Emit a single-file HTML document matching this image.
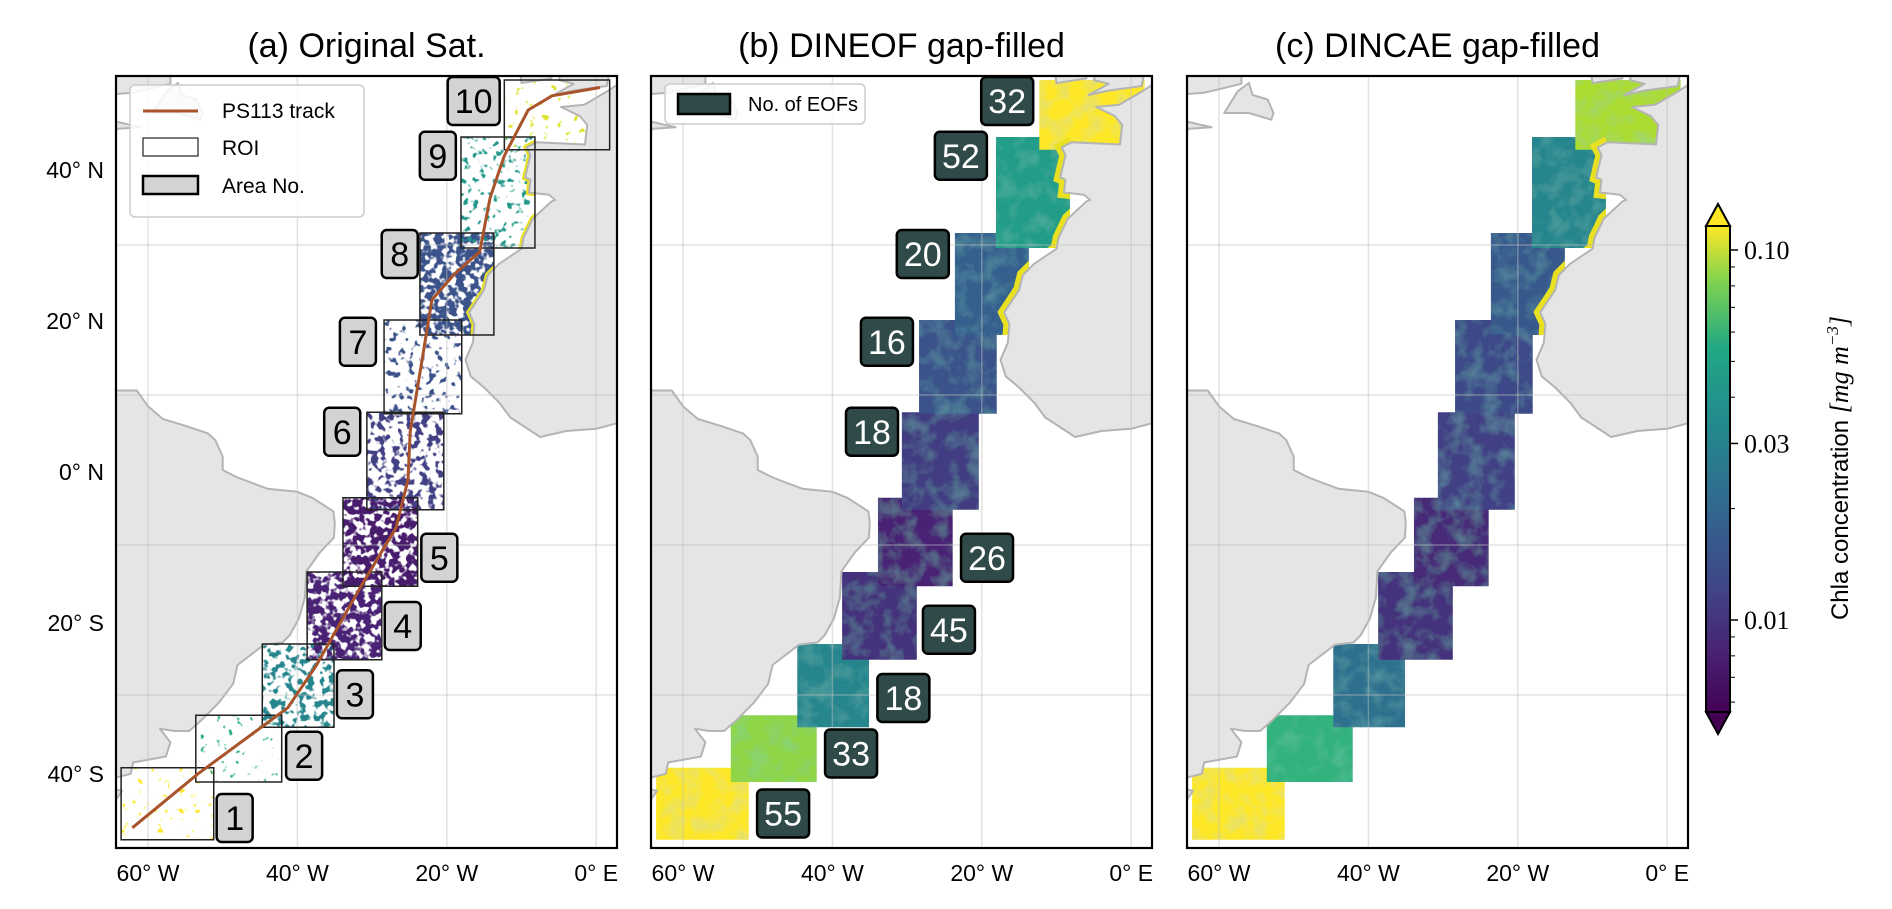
<!DOCTYPE html>
<html><head><meta charset="utf-8"><style>
body{margin:0;background:#fff;}
svg{display:block;font-family:"Liberation Sans","DejaVu Sans",sans-serif;}
</style></head><body>
<svg id="fig" width="1892" height="909" viewBox="0 0 1892 909" xmlns="http://www.w3.org/2000/svg">
<defs>
<filter id="speck0" x="0" y="0" width="100%" height="100%">
<feTurbulence type="fractalNoise" baseFrequency="0.14" numOctaves="2" seed="3" result="n"/>
<feColorMatrix in="n" type="matrix" values="0 0 0 0 1  0 0 0 0 1  0 0 0 0 1  0 0 0 -9 3.0" result="m"/>
<feComposite in="SourceGraphic" in2="m" operator="in"/>
</filter>
<filter id="speck1" x="0" y="0" width="100%" height="100%">
<feTurbulence type="fractalNoise" baseFrequency="0.14" numOctaves="2" seed="5" result="n"/>
<feColorMatrix in="n" type="matrix" values="0 0 0 0 1  0 0 0 0 1  0 0 0 0 1  0 0 0 -9 3.8" result="m"/>
<feComposite in="SourceGraphic" in2="m" operator="in"/>
</filter>
<filter id="speck2" x="0" y="0" width="100%" height="100%">
<feTurbulence type="fractalNoise" baseFrequency="0.14" numOctaves="2" seed="9" result="n"/>
<feColorMatrix in="n" type="matrix" values="0 0 0 0 1  0 0 0 0 1  0 0 0 0 1  0 0 0 -9 4.5" result="m"/>
<feComposite in="SourceGraphic" in2="m" operator="in"/>
</filter>
<filter id="speck3" x="0" y="0" width="100%" height="100%">
<feTurbulence type="fractalNoise" baseFrequency="0.14" numOctaves="2" seed="11" result="n"/>
<feColorMatrix in="n" type="matrix" values="0 0 0 0 1  0 0 0 0 1  0 0 0 0 1  0 0 0 -9 5.3" result="m"/>
<feComposite in="SourceGraphic" in2="m" operator="in"/>
</filter>
<filter id="mottle" x="0" y="0" width="100%" height="100%">
<feTurbulence type="fractalNoise" baseFrequency="0.06" numOctaves="3" seed="7" result="n"/>
<feColorMatrix in="n" type="matrix" values="0 0 0 0 0.2  0 0 0 0 0.6  0 0 0 0 0.5  0 0 0 0.6 -0.25" result="m"/>
<feComposite in="m" in2="SourceGraphic" operator="in" result="mm"/>
<feMerge><feMergeNode in="SourceGraphic"/><feMergeNode in="mm"/></feMerge>
</filter>
<linearGradient id="cbgrad" x1="0" y1="1" x2="0" y2="0">
<stop offset="0" stop-color="#440154"/><stop offset="0.13" stop-color="#482475"/><stop offset="0.25" stop-color="#414487"/><stop offset="0.38" stop-color="#355f8d"/><stop offset="0.5" stop-color="#2a788e"/><stop offset="0.63" stop-color="#21918c"/><stop offset="0.75" stop-color="#22a884"/><stop offset="0.88" stop-color="#7ad151"/><stop offset="1" stop-color="#fde725"/>
</linearGradient>
</defs>
<g id="root"></g>
</svg>
<script>
// ---- data ----
const panelTitles = ["(a) Original Sat.", "(b) DINEOF gap-filled", "(c) DINCAE gap-filled"];
const lonTicks = [-60, -40, -20, 0];
const lonTickLabels = ["60° W", "40° W", "20° W", "0° E"];
const latTicks = [40, 20, 0, -20, -40];
const latTickLabels = ["40° N", "20° N", "0° N", "20° S", "40° S"];
const roiLon0 = [-63.6, -53.6, -44.7, -38.7, -33.9, -30.7, -28.4, -23.6, -18.1, -12.3];
const roiLon1 = [-51.2, -42.1, -35.1, -28.7, -23.9, -20.4, -18.0, -13.7, -8.2, 1.8];
const roiLat0 = [-49.3, -41.6, -34.3, -25.3, -15.5, -5.3, 7.5, 18.0, 29.6, 42.7];
const roiLat1 = [-39.7, -32.7, -23.2, -13.6, -3.7, 7.7, 20.0, 31.6, 44.4, 52.0];
const areaNo = ["1","2","3","4","5","6","7","8","9","10"];
const areaLblLon = [-48.4, -39.1, -32.3, -25.9, -21.0, -34.0, -31.9, -26.3, -21.2, -16.4];
const areaLblLat = [-46.4, -38.1, -29.9, -20.8, -11.7, 5.1, 17.1, 28.8, 41.9, 49.2];
const eofNo = ["55","33","18","45","26","18","16","20","52","32"];
const eofLblLon = [-46.6, -37.5, -30.5, -24.4, -19.3, -34.7, -32.7, -27.9, -22.8, -16.6];
const eofLblLat = [-45.8, -37.8, -30.4, -21.3, -11.7, 5.1, 17.1, 28.8, 41.9, 49.2];
const satCoverage = [0, 0, 2, 3, 3, 2, 1, 3, 1, 0];
const chlaSat = [0.12, 0.035, 0.022, 0.0075, 0.007, 0.01, 0.012, 0.012, 0.028, 0.1];
const chlaDineof = [0.15, 0.07, 0.022, 0.0085, 0.0075, 0.0095, 0.012, 0.014, 0.03, 0.12];
const chlaDincae = [0.13, 0.04, 0.017, 0.0085, 0.008, 0.01, 0.011, 0.013, 0.022, 0.08];
const trackLon = [-62.1, -53.3, -41.3, -37.5, -31.6, -26.8, -25.2, -24.9, -23.3, -22.0, -19.0, -15.6, -14.2, -12.3, -9.1, -5.9, 0.5];
const trackLat = [-47.7, -40.5, -31.7, -26.1, -15.7, -7.7, -1.3, 5.1, 14.7, 22.7, 26.1, 29.1, 36.3, 41.9, 48.0, 49.9, 51.0];
const cbTicks = [0.1, 0.03, 0.01];
const cbTickLabels = ["0.10", "0.03", "0.01"];
const cbMinor = [0.09,0.08,0.07,0.06,0.05,0.04,0.02,0.009,0.008,0.007,0.006];

// coastlines (geography)
const SAm = [[-70,12],[-64,10.6],[-61.5,10.6],[-60,8.5],[-58,6.8],[-55,5.9],[-52,4.9],[-51,4],[-50,1.8],[-50,0],[-48,-1],[-44,-2.5],[-40,-2.9],[-38,-3.7],[-35.2,-5.5],[-35,-7],[-35.1,-9],[-37,-11],[-38.8,-13.5],[-39,-17],[-39.8,-19.8],[-41,-22],[-42,-23],[-44.5,-23.3],[-48,-26],[-48.6,-28.5],[-50.5,-31],[-53,-33.5],[-54.5,-34.8],[-56.5,-34.8],[-58.4,-34.5],[-57,-36.3],[-57.6,-38.2],[-62,-39],[-62.3,-40.5],[-64.3,-41],[-64.5,-42.5],[-63.5,-42.8],[-65,-45],[-67,-46],[-68,-50],[-70,-60],[-80,-60],[-80,12]];
const Afr = [[10,-5],[10,4.5],[3,6.3],[0,5.5],[-4,5.2],[-7.5,4.4],[-11.5,7],[-13,9],[-15,11],[-16.8,12.5],[-17.5,14.7],[-16.5,17],[-16.3,19.5],[-17,21],[-15,24],[-14.5,26],[-13,27.5],[-10,29.5],[-9.7,31],[-8.5,33.5],[-6,35.8],[-5.5,36],[-6.3,36.7],[-9,37],[-8.8,38.7],[-9.5,39],[-8.8,42],[-9.3,43],[-8,43.7],[-1.5,43.4],[-1.2,46],[-2.2,47.2],[-4.7,48.4],[-1.6,48.7],[1.5,50.5],[3,51.5],[10,55],[10,-5]];
const UK = [[-5.7,50],[-3,50.6],[1.4,51.2],[1.7,52.7],[1,55],[-4,55],[-5,52],[-3,51.5],[-5.7,50]];
const IRL = [[-10,51.6],[-6,52.2],[-6,55],[-10.5,55],[-10,51.6]];
const NAm = [[-80,44],[-66,44.5],[-64,45.5],[-61,45.7],[-64.5,46.5],[-66,50],[-62,50.3],[-57,51.5],[-57,56],[-80,56]];
const NFL = [[-59.3,47.6],[-56,47.6],[-53,46.7],[-52.7,47.6],[-53.5,49.4],[-55.5,50],[-56,51.6],[-57.5,50.5],[-59.3,47.6]];

// ---- geometry ----
const PL = [116, 651, 1187], PW = 501, PT = 76, PB = 848;
const X = (p, lon) => PL[p] + 32 + (lon + 60) * 7.47;
const Y = lat => 170 + (40 - lat) * 7.5;
const NS = "http://www.w3.org/2000/svg";
const root = document.getElementById('root');
function mk(tag, attrs, parent) { const e = document.createElementNS(NS, tag); for (const k in attrs) e.setAttribute(k, attrs[k]); (parent || root).appendChild(e); return e; }
const vstops = [[68,1,84],[72,36,117],[65,68,135],[53,95,141],[42,120,142],[33,145,140],[34,168,132],[68,190,112],[122,209,81],[189,223,38],[253,231,37]];
function viridis(t) { t = Math.max(0, Math.min(1, t)); const f = t * 10, i = Math.min(9, Math.floor(f)), r = f - i; const a = vstops[i], b = vstops[i + 1]; return `rgb(${a.map((v, k) => Math.round(v + (b[k] - v) * r)).join(',')})`; }
const LMIN = Math.log10(0.0056), LMAX = Math.log10(0.117);
const cmap = v => viridis((Math.log10(v) - LMIN) / (LMAX - LMIN));
const polyStr = (p, pts) => pts.map(q => X(p, q[0]).toFixed(1) + ',' + Y(q[1]).toFixed(1)).join(' ');

for (let p = 0; p < 3; p++) {
  const g = mk('g', {});
  
  
  const cp = mk('clipPath', { id: 'clip' + p }, g);
  mk('rect', { x: PL[p], y: PT, width: PW, height: PB - PT }, cp);
  const inner = mk('g', { 'clip-path': `url(#clip${p})` }, g);
  const vals = p === 0 ? chlaSat : (p === 1 ? chlaDineof : chlaDincae);
  const fg = mk('g', p === 0 ? {} : { filter: 'url(#mottle)' }, inner);
  
  
  for (let i = 0; i < roiLon0.length; i++) {
    const at = { x: X(p, roiLon0[i]), y: Y(roiLat1[i]), width: X(p, roiLon1[i]) - X(p, roiLon0[i]), height: Y(roiLat0[i]) - Y(roiLat1[i]), fill: cmap(vals[i]) };
    if (p === 0) at.filter = `url(#speck${satCoverage[i]})`;
    const r = mk('rect', at, fg);
    
    
  }
  // coastal yellow strip
  const cl = mk('clipPath', { id: 'roi' + p }, g);
  for (let i = 5; i < roiLon0.length; i++) mk('rect', { x: X(p, roiLon0[i]), y: Y(roiLat1[i]), width: X(p, roiLon1[i]) - X(p, roiLon0[i]), height: Y(roiLat0[i]) - Y(roiLat1[i]) }, cl);
  const cs = mk('polyline', { points: polyStr(p, Afr.slice(11, 29)), fill: 'none', stroke: '#e8e020', 'stroke-width': p === 0 ? 6 : 12, 'clip-path': `url(#roi${p})` }, inner);
  
  
  // land
  [SAm, Afr, UK, IRL, NAm, NFL].forEach((L, k) => {
    const e = mk('polygon', { points: polyStr(p, L), fill: '#e5e5e5', stroke: '#b4b4b4', 'stroke-width': 2, 'stroke-linejoin': 'round' }, inner);
    
    
  });
  lonTicks.forEach(l => { const e = mk('line', { x1: X(p, l), x2: X(p, l), y1: PT, y2: PB, stroke: 'rgba(190,190,190,0.45)', 'stroke-width': 1.5 }, inner);   });
  [30, 10, -10, -30].forEach(l => { const e = mk('line', { x1: PL[p], x2: PL[p] + PW, y1: Y(l), y2: Y(l), stroke: 'rgba(190,190,190,0.45)', 'stroke-width': 1.5 }, inner);   });
  if (p === 0) {
    for (let i = 0; i < roiLon0.length; i++) {
      const r = mk('rect', { x: X(p, roiLon0[i]), y: Y(roiLat1[i]), width: X(p, roiLon1[i]) - X(p, roiLon0[i]), height: Y(roiLat0[i]) - Y(roiLat1[i]), fill: 'none', stroke: '#222', 'stroke-width': 1.5 }, inner);
      
      
    }
    const tr = mk('polyline', { points: trackLon.map((l, i) => X(p, l).toFixed(1) + ',' + Y(trackLat[i]).toFixed(1)).join(' '), fill: 'none', stroke: '#a9532a', 'stroke-width': 3, 'stroke-linejoin': 'round' }, inner);
    
    
  }
  const labs = p === 0 ? areaNo : (p === 1 ? eofNo : null);
  if (labs) {
    const lx = p === 0 ? areaLblLon : eofLblLon, ly = p === 0 ? areaLblLat : eofLblLat;
    labs.forEach((t, i) => {
      const w = t.length > 1 ? 52 : 36, cx = X(p, lx[i]), cy = Y(ly[i]);
      const lg = mk('g', {}, g);
      
      
      mk('rect', { x: cx - w / 2, y: cy - 24, width: w, height: 48, rx: 5, fill: p === 0 ? '#d3d3d3' : '#2f4a48', stroke: '#000', 'stroke-width': 2.5 }, lg);
      const tx = mk('text', { x: cx, y: cy + 12, 'text-anchor': 'middle', 'font-size': 34, fill: p === 0 ? '#000' : '#fff' }, lg);
      tx.textContent = t;
    });
  }
  const fr = mk('rect', { x: PL[p], y: PT, width: PW, height: PB - PT, fill: 'none', stroke: '#000', 'stroke-width': 2.2 }, g);
  
  
  const tt = mk('text', { x: PL[p] + PW / 2, y: 57, 'text-anchor': 'middle', 'font-size': 34 }, g);
  tt.textContent = panelTitles[p];
  
  
  lonTicks.forEach((l, i) => {
    const e = mk('text', { x: X(p, l), y: 881, 'text-anchor': 'middle', 'font-size': 23 }, g);
    e.textContent = lonTickLabels[i];
    
    
  });
  if (p === 0) latTicks.forEach((l, i) => {
    const e = mk('text', { x: 104, y: 170 + (40 - l) * 7.55 + 8, 'text-anchor': 'end', 'font-size': 23 }, g);
    e.textContent = latTickLabels[i];
    
    
  });
}

(function () {
  const lg = mk('g', {});
  
  
  mk('rect', { x: 130, y: 85, width: 234, height: 132, rx: 5, fill: 'rgba(255,255,255,0.85)', stroke: '#ccc', 'stroke-width': 1.5 }, lg);
  mk('line', { x1: 143, x2: 198, y1: 111, y2: 111, stroke: '#a9532a', 'stroke-width': 3 }, lg);
  mk('rect', { x: 143, y: 138, width: 55, height: 18, fill: '#fff', stroke: '#222', 'stroke-width': 1.2 }, lg);
  mk('rect', { x: 143, y: 176, width: 55, height: 18, fill: '#d3d3d3', stroke: '#000', 'stroke-width': 2.5 }, lg);
  [['PS113 track', 118], ['ROI', 155], ['Area No.', 193]].forEach(([t, y]) => { const e = mk('text', { x: 222, y: y, 'font-size': 21 }, lg); e.textContent = t; });
  const lb = mk('g', {});
  
  
  mk('rect', { x: 665, y: 84, width: 200, height: 40, rx: 5, fill: 'rgba(255,255,255,0.85)', stroke: '#ccc', 'stroke-width': 1.5 }, lb);
  mk('rect', { x: 678, y: 94, width: 52, height: 20, fill: '#2f4a48', stroke: '#000', 'stroke-width': 2.5 }, lb);
  const e = mk('text', { x: 748, y: 111, 'font-size': 20 }, lb); e.textContent = 'No. of EOFs';
})();

(function () {
  const cb = mk('g', {});
  
  
  const x0 = 1706, x1 = 1730, yTop = 226, yBot = 712;
  const cy = v => 620 - (Math.log10(v) + 2) * 370;
  mk('polygon', { points: `${x0},${yTop} ${(x0 + x1) / 2},${yTop - 22} ${x1},${yTop}`, fill: '#fde725', stroke: '#000', 'stroke-width': 2 }, cb);
  mk('polygon', { points: `${x0},${yBot} ${(x0 + x1) / 2},${yBot + 22} ${x1},${yBot}`, fill: '#440154', stroke: '#000', 'stroke-width': 2 }, cb);
  mk('rect', { x: x0, y: yTop, width: x1 - x0, height: yBot - yTop, fill: 'url(#cbgrad)', stroke: '#000', 'stroke-width': 2 }, cb);
  cbTicks.forEach((v, i) => {
    mk('line', { x1: x1, x2: x1 + 8, y1: cy(v), y2: cy(v), stroke: '#000', 'stroke-width': 1.5 }, cb);
    const t = mk('text', { x: x1 + 14, y: cy(v) + 9, 'font-size': 26, 'font-family': '"Liberation Serif",serif' }, cb);
    t.textContent = cbTickLabels[i];
    
    
  });
  cbMinor.forEach(v => mk('line', { x1: x1, x2: x1 + 5, y1: cy(v), y2: cy(v), stroke: '#000', 'stroke-width': 1 }, cb));
  const lab = mk('text', { x: 0, y: 0, 'font-size': 24, transform: 'translate(1848,468) rotate(-90)', 'text-anchor': 'middle' }, cb);
  
  
  lab.innerHTML = 'Chla concentration <tspan font-family="Liberation Serif,serif" font-style="italic" font-size="26">[mg  m<tspan dy="-10" font-size="17">−3</tspan><tspan dy="10">]</tspan></tspan>';
})();
</script>
</body></html>
